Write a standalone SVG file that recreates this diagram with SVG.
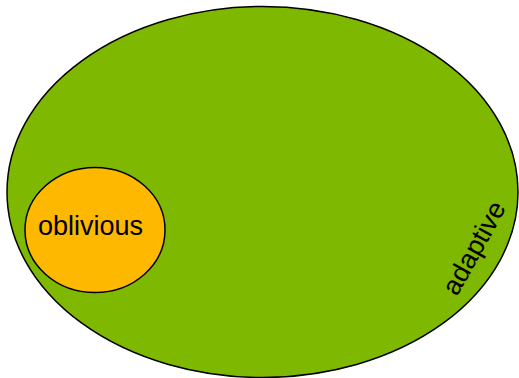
<svg xmlns="http://www.w3.org/2000/svg" width="519" height="378" viewBox="0 0 519 378">
<style>
.lbl{font-family:"Liberation Sans",Arial,sans-serif;font-size:27px;fill:#000;text-anchor:middle}
.sh{stroke:#000;stroke-width:1.5}
</style>
<rect width="519" height="378" fill="#fff"/>
<g id="adaptive">
<ellipse class="sh" cx="262.5" cy="192" rx="255.5" ry="185.5" fill="#7FB800"/>
<text class="lbl" transform="translate(474,248) rotate(-61)" x="0" y="9">adaptive</text>
</g>
<g id="oblivious">
<ellipse class="sh" cx="95" cy="230" rx="70" ry="62.5" fill="#FFB800"/>
<text class="lbl" x="90.5" y="234.5">oblivious</text>
</g>
<g id="connectors"/>
</svg>
